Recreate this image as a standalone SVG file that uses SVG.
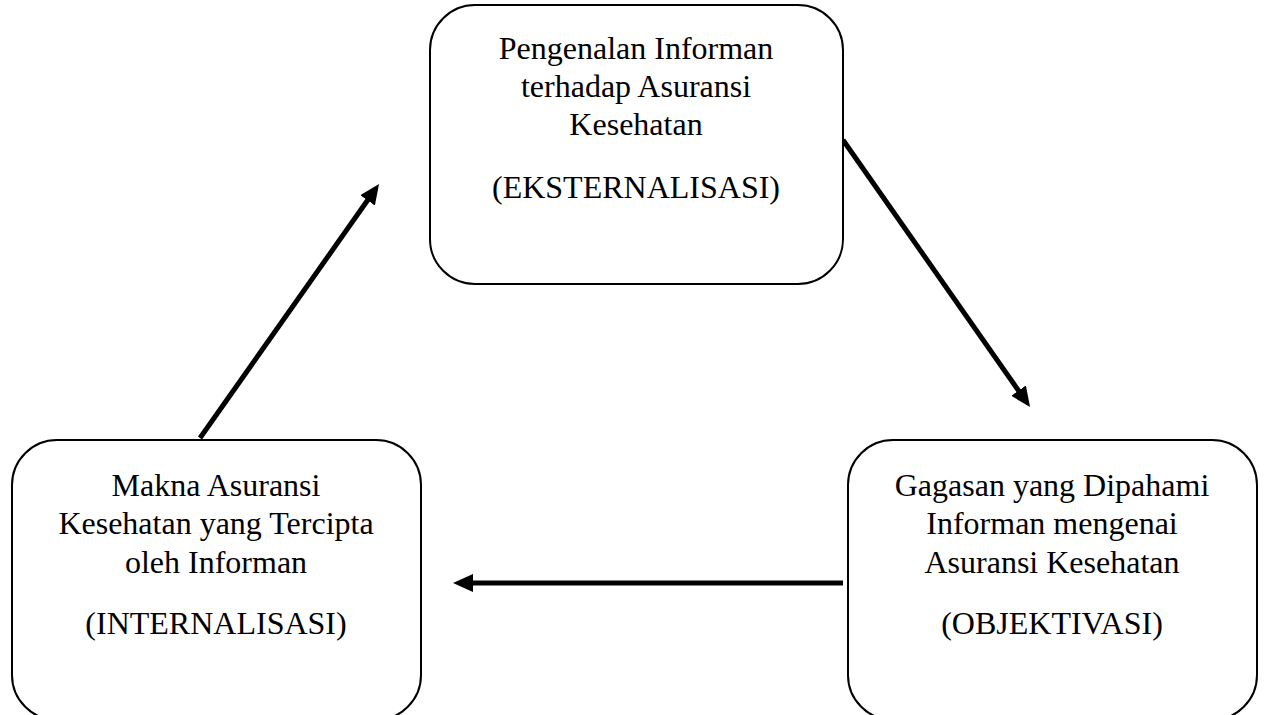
<svg xmlns="http://www.w3.org/2000/svg" width="1265" height="715" viewBox="0 0 1265 715">
<style>
.box{fill:#fff;stroke:#000;stroke-width:2}
.t{font-family:"Liberation Serif","Times New Roman",serif;font-size:32px;fill:#000;text-anchor:middle}
.c{stroke:#000;stroke-width:5;fill:none}
</style>
<defs>
<marker id="ah" viewBox="0 0 20 18" refX="5" refY="9" markerWidth="20" markerHeight="18" markerUnits="userSpaceOnUse" orient="auto">
<path d="M0,0 L20,9 L0,18 z" fill="#000"/>
</marker>
</defs>
<rect width="1265" height="715" fill="#fff"/>
<g id="connectors">
<line class="c" x1="200" y1="438" x2="370.4" y2="196.3" marker-end="url(#ah)"/>
<line class="c" x1="843" y1="140" x2="1021.4" y2="394.7" marker-end="url(#ah)"/>
<line class="c" x1="843" y1="583" x2="468" y2="583" marker-end="url(#ah)"/>
</g>
<g id="node-eksternalisasi">
<rect class="box" x="430" y="5" width="413" height="279" rx="45" ry="45"/>
<text class="t" x="636" y="59">Pengenalan Informan</text>
<text class="t" x="636" y="97">terhadap Asuransi</text>
<text class="t" x="636" y="135">Kesehatan</text>
<text class="t" x="636" y="198">(EKSTERNALISASI)</text>
</g>
<g id="node-internalisasi">
<rect class="box" x="12" y="440" width="409" height="280" rx="45" ry="45"/>
<text class="t" x="216" y="496">Makna Asuransi</text>
<text class="t" x="216" y="534">Kesehatan yang Tercipta</text>
<text class="t" x="216" y="573">oleh Informan</text>
<text class="t" x="216" y="634">(INTERNALISASI)</text>
</g>
<g id="node-objektivasi">
<rect class="box" x="848" y="440" width="409" height="280" rx="45" ry="45"/>
<text class="t" x="1052" y="496">Gagasan yang Dipahami</text>
<text class="t" x="1052" y="534">Informan mengenai</text>
<text class="t" x="1052" y="573">Asuransi Kesehatan</text>
<text class="t" x="1052" y="634">(OBJEKTIVASI)</text>
</g>
</svg>
